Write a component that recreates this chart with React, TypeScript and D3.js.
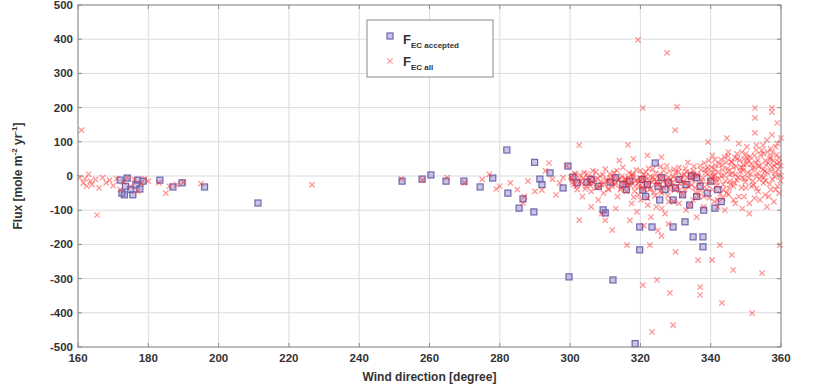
import * as d3 from "d3";

// wind direction [deg], flux [mole m-2 yr-1]
const accepted: [number, number][] = [
  [172, -12], [172.5, -50], [173.2, -55], [173.5, -30], [174, -6], [175, -40], [175.6, -55],
  [176.5, -26], [177, -12], [177.6, -38], [178.5, -15], [183.3, -12], [187, -32], [189.6, -20],
  [196, -32], [211.2, -79],
  [252.2, -15], [257.9, -9], [260.4, 3], [264.7, -15], [269.8, -15], [274.4, -32], [278, -6],
  [282, 76], [282.3, -50], [285.5, -94], [286.6, -67], [289.7, -105], [289.9, 40], [291.4, -9],
  [292, -25], [294.3, 9], [298, -35], [299.4, 29], [299.7, -295], [300.8, -3], [302, -20],
  [304.8, -18], [306, -10], [308, -30], [309.4, -99], [310, -108], [311.4, -18], [312.2, -304],
  [313, -5], [315, -25], [316, -40], [317, -15], [318.5, -490], [319.8, -149], [319.8, -216],
  [320.7, -41], [320.5, -10], [321.5, -60], [322, -25], [323.3, -149], [324.2, 38], [325, -30],
  [325.5, -70], [326, -5], [327, -40], [328, -20], [329.3, -149], [329.3, -70], [330, -35],
  [331, -10], [332, -55], [332.7, -134], [333, -25], [334, -85], [335, -178], [336, -60],
  [337, -30], [337.8, -178], [337.8, -207], [338, -100], [339, -50], [340, -15], [341.2, -94],
  [342, -40], [343, -75], [336, -5], [334.5, 0],
];

const allWest: [number, number][] = [
  [160.5, -5], [161, 134], [161.5, -20], [162, -8], [162.5, -30], [163, 5], [163.5, -15],
  [164, -25], [165, -10], [165.4, -114], [166, -35], [167, -5], [168, -20], [169, -12],
  [170, -28], [171, -8], [172, -40], [173, -18], [174, -5], [175, -30], [176, -10], [177, -45],
  [178, -22], [179, -8], [180, -15], [183, -20], [185, -50], [186, -30], [188, -25], [190, -18],
  [195, -22], [226.6, -26], [252, -8], [258, -12], [265, -5], [270, -20], [275, -10], [277, 5],
  [279, -38], [280, -30], [283, -20], [285, -40], [286.6, -79], [287, -60], [288, -15],
  [290, -45], [292, -41], [293, 15], [294, 38], [295, -10], [296, -55], [297, -20], [298, -5],
  [299, 30],
];

const allMid: [number, number][] = [
  [300.5, -10], [301, -25], [301.5, 5], [302, -40], [302.6, 90], [302.6, -129], [303, -15],
  [303.5, -60], [304, 10], [304.5, -30], [305, -5], [305.5, -20], [306, -45], [306.5, 15],
  [307, -10], [307.5, -35], [308, -70], [308.5, 0], [309, -25], [309.5, -50], [310, 20],
  [310.5, -15], [311, -40], [311.5, -5], [312, -158], [312, -30], [312.5, 10], [313, -20],
  [313.5, -60], [314, -8], [314.5, -35], [315, 25], [315.5, -15], [316, -45], [316.2, -202],
  [316.5, 91], [316.5, -5], [317, -25], [317.5, -80], [318, 5], [318.5, -30], [319, -12],
  [319.3, 398], [319.5, -55], [320, 15], [320.5, -20], [320.7, 199], [320.7, -319], [321, -40],
  [321.5, 0], [322, -65], [322.5, -15], [322.7, -202], [323, -35], [323.3, -456], [323.5, 20],
  [324, -10], [324.5, -90], [324.7, -304], [325, -25], [325.5, 5], [326, -50], [326.5, -15],
  [327, -110], [327.5, 30], [327.6, 360], [328, -5], [328.4, -342], [328.5, -40], [329, -20],
  [329.3, -436], [329.5, -75], [329.9, 134], [330, 10], [330, -222], [330.4, 202],
  [306, -90], [309, -110], [313, -95], [317, -130], [319, -105], [321, -145], [323, -120],
  [325, -160], [326, -175], [328, -140], [322, 60], [326, 55], [318, 50], [314, 45], [310, -130],
];

const allMidDense: [number, number][] = [
  [300.2, -3], [300.8, -18], [301.3, 8], [301.8, -30], [302.3, -12], [302.8, 2], [303.3, -22],
  [303.8, -6], [304.3, -38], [304.8, 6], [305.3, -14], [305.8, -28], [306.3, -2], [306.8, -20],
  [307.3, 12], [307.8, -8], [308.3, -32], [308.8, -16], [309.3, 4], [309.8, -24], [310.3, -10],
  [310.8, -36], [311.3, 6], [311.8, -18], [312.3, -4], [312.8, -26], [313.3, 16], [313.8, -12],
  [314.3, -40], [314.8, 0], [315.3, -22], [315.8, -8], [316.3, -30], [316.8, 10], [317.3, -16],
  [317.8, -2], [318.3, -44], [318.8, 18], [319.3, -20], [319.8, -6], [320.3, -34], [320.8, 4],
  [321.3, -12], [321.8, -28], [322.3, 22], [322.8, -2], [323.3, -18], [323.8, -48], [324.3, 8],
  [324.8, -24], [325.3, -6], [325.8, 28], [326.3, -32], [326.8, 0], [327.3, -14], [327.8, -58],
  [328.3, 14], [328.8, -28], [329.3, -2], [329.8, -40],
  [315.6, -10], [316.6, -24], [317.6, 4], [318.6, -14], [319.6, -32], [320.6, -8], [321.6, 12],
  [322.6, -40], [323.6, -4], [324.6, -16], [325.6, -44], [326.6, 16], [327.6, -26], [328.6, -10],
  [329.6, 20], [318.1, -62], [320.1, -70], [322.1, -85], [324.1, -58], [326.1, -95], [328.1, -75],
];

const allNorth: [number, number][] = [
  [330.5, -30], [331, 25], [331.5, -10], [332, -55], [332.5, 5], [333, -20], [333.5, 40],
  [334, -85], [334.5, -5], [335, 15], [335.5, -35], [336, -120], [336.4, -246], [336.5, 0],
  [337, -325], [337, -348], [337, 30], [337.5, -15], [338, -60], [338.5, 10], [339, -25],
  [339.2, 99], [339.5, 45], [340, -5], [340.4, -246], [340.5, -40], [341, 20], [341.5, -10],
  [342, -70], [342.5, 35], [342.6, -202], [343, 0], [343.2, -371], [343.5, -25], [344, 55],
  [344.5, -50], [344.6, 111], [345, 15], [345.5, -15], [346, -231], [346, 40], [346.4, -275],
  [346.5, -30], [347, 5], [347.5, 65], [348, -60], [348.5, 25], [349, -5], [349.5, 50],
  [350, -35], [350.3, 85], [350.5, 10], [351, -80], [351.5, 35], [351.8, -401], [352, -15],
  [352.5, 60], [352.6, 199], [352.6, 170], [352.6, 126], [353, 0], [353.5, -45], [354, 30],
  [354.5, 75], [354.6, -284], [355, -20], [355.5, 45], [356, 105], [356, 10], [356.5, -60],
  [357, 55], [357.4, 199], [357.4, 187], [357.4, 120], [357.5, -10], [358, 30], [358.5, 85],
  [358.9, 155], [359, -30], [359.5, 40], [359.7, -202], [360, 111], [360, 0],
];

const allNorthDense: [number, number][] = [
  [330.2, -8], [330.8, 12], [331.2, -42], [331.8, 2], [332.3, -18], [332.8, 22], [333.2, -5],
  [333.8, -32], [334.2, 8], [334.8, -12], [335.2, 28], [335.8, -48], [336.2, 4], [336.8, -22],
  [337.2, 18], [337.8, -6], [338.2, 38], [338.8, -38], [339.2, 6], [339.8, -16], [340.2, 26],
  [340.8, -2], [341.2, 48], [341.8, -28], [342.2, 12], [342.8, -52], [343.2, 32], [343.8, 2],
  [344.2, -14], [344.8, 22], [345.2, -36], [345.8, 42], [346.2, 8], [346.8, -20], [347.2, 28],
  [347.8, -4], [348.2, 46], [348.8, -34], [349.2, 16], [349.8, -18], [350.2, 36], [350.8, -6],
  [351.2, 56], [351.8, 22], [352.2, -26], [352.8, 40], [353.2, 8], [353.8, -10], [354.2, 62],
  [354.8, 18], [355.2, -4], [355.8, 32], [356.2, 70], [356.8, -24], [357.2, 14], [357.8, 44],
  [358.2, -2], [358.8, 62], [359.2, 20], [359.8, -14],
  [340.5, 60], [342, -90], [344, -100], [345, 70], [347, -80], [348, 95], [349, -95], [350, 65],
  [351, -110], [353, 90], [354, -70], [355, 65], [356, -90], [357, 80], [358, -75], [359, 95],
  [359.5, -50], [358.5, -40], [355.5, -55], [352.5, -65], [349.5, -60], [346.5, -70],
  [343.5, -65], [341, -75], [338, -90], [335, -70], [333, -100], [331, -80],
];

const allNorthCore: [number, number][] = [
  [340.6, 10], [341.4, 32], [342.4, -8], [343.4, 18], [344.4, 40], [345.4, 4], [346.4, 26],
  [347.4, -12], [348.4, 12], [349.4, 34], [350.4, 52], [351.4, 6], [352.4, 24], [353.4, 46],
  [354.4, 0], [355.4, 14], [356.4, 38], [357.4, 26], [358.4, 10], [359.4, 52], [359.9, 30],
  [341.6, -18], [343.6, -40], [345.6, -24], [347.6, 50], [349.6, -8], [351.6, -30], [353.6, 28],
  [355.6, -14], [357.6, 68], [359.6, 4], [344.9, 58], [348.9, 70], [352.9, 76], [356.9, 50],
  [358.9, 36], [350.9, 44], [346.9, 54], [342.9, 48], [354.9, 90], [357.1, -40], [353.1, -36],
  [349.1, 24], [345.1, -54], [341.1, 2], [339.1, 24], [337.1, -42], [335.1, 6], [333.1, 12],
  [331.1, -22], [336.6, -60], [338.6, 20], [334.6, -26], [332.6, -40], [339.6, -64],
];

const xTicks = [160, 180, 200, 220, 240, 260, 280, 300, 320, 340, 360];
const yTicks = [-500, -400, -300, -200, -100, 0, 100, 200, 300, 400, 500];

const W = 814;
const H = 386;
const m = { left: 78, right: 33, top: 5, bottom: 39 };

export default function App() {
  const x = d3.scaleLinear().domain([160, 360]).range([m.left, W - m.right]);
  const y = d3.scaleLinear().domain([-500, 500]).range([H - m.bottom, m.top]);
  const allPts = [...allWest, ...allMid, ...allMidDense, ...allNorth, ...allNorthDense, ...allNorthCore];
  const cross = d3.symbol(d3.symbolTimes, 20)()!;
  const font = "'Liberation Sans', Arial, sans-serif";
  const x0 = m.left, x1 = W - m.right, y0 = m.top, y1 = H - m.bottom;
  const blueFill = "rgba(120,105,190,0.4)";
  const blueStroke = "#6f66ad";
  const redStroke = "rgba(255,25,25,0.45)";

  return (
    <svg width={W} height={H} style={{ position: "absolute", left: 0, top: 0 }} fontFamily={font}>
      <rect width={W} height={H} fill="#fff" />
      {/* grid */}
      {xTicks.map((t) => (
        <line key={"gx" + t} x1={x(t)} x2={x(t)} y1={y0} y2={y1} stroke="#dcdcdc" />
      ))}
      {yTicks.map((t) => (
        <line key={"gy" + t} x1={x0} x2={x1} y1={y(t)} y2={y(t)} stroke="#dcdcdc" />
      ))}
      {/* accepted */}
      {accepted.map((d, i) => (
        <rect key={"a" + i} x={x(d[0]) - 3} y={y(d[1]) - 3} width={6} height={6}
          fill={blueFill} stroke={blueStroke} strokeWidth={1.2} />
      ))}
      {/* all */}
      {allPts.map((d, i) => (
        <path key={"r" + i} d={cross} transform={`translate(${x(d[0])},${y(d[1])})`}
          fill="none" stroke={redStroke} strokeWidth={1.3} />
      ))}
      {/* box */}
      <rect x={x0} y={y0} width={x1 - x0} height={y1 - y0} fill="none" stroke="#8a8a8a" />
      {xTicks.map((t) => (
        <g key={"tx" + t}>
          <line x1={x(t)} x2={x(t)} y1={y1} y2={y1 - 4} stroke="#8a8a8a" />
          <line x1={x(t)} x2={x(t)} y1={y0} y2={y0 + 4} stroke="#8a8a8a" />
          <text x={x(t)} y={y1 + 15} textAnchor="middle" fontSize={11.5} fontWeight="bold" fill="#333">{t}</text>
        </g>
      ))}
      {yTicks.map((t) => (
        <g key={"ty" + t}>
          <line x1={x0} x2={x0 + 4} y1={y(t)} y2={y(t)} stroke="#8a8a8a" />
          <line x1={x1} x2={x1 - 4} y1={y(t)} y2={y(t)} stroke="#8a8a8a" />
          <text x={x0 - 5} y={y(t) + 4} textAnchor="end" fontSize={11.5} fontWeight="bold" fill="#333">{t}</text>
        </g>
      ))}
      <text x={(x0 + x1) / 2} y={381} textAnchor="middle" fontSize={12} fontWeight="bold" fill="#333">
        Wind direction [degree]
      </text>
      <text transform={`translate(22,${(y0 + y1) / 2}) rotate(-90)`} textAnchor="middle" fontSize={12} fontWeight="bold" fill="#333">
        Flux [mole m<tspan dy={-5} fontSize={8}>-2</tspan><tspan dy={5}> yr</tspan><tspan dy={-5} fontSize={8}>-1</tspan><tspan dy={5}>]</tspan>
      </text>
      {/* legend */}
      <rect x={367} y={20} width={126} height={57} fill="#fff" stroke="#8a8a8a" />
      <rect x={387} y={33} width={6} height={6} fill={blueFill} stroke={blueStroke} strokeWidth={1.2} />
      <text x={403} y={44} fontSize={13} fontWeight="bold" fill="#333">
        F<tspan dy={4} fontSize={8}>EC accepted</tspan>
      </text>
      <path d={cross} transform="translate(390,61)" fill="none" stroke={redStroke} strokeWidth={1.3} />
      <text x={403} y={66} fontSize={13} fontWeight="bold" fill="#333">
        F<tspan dy={4} fontSize={8}>EC all</tspan>
      </text>
    </svg>
  );
}
